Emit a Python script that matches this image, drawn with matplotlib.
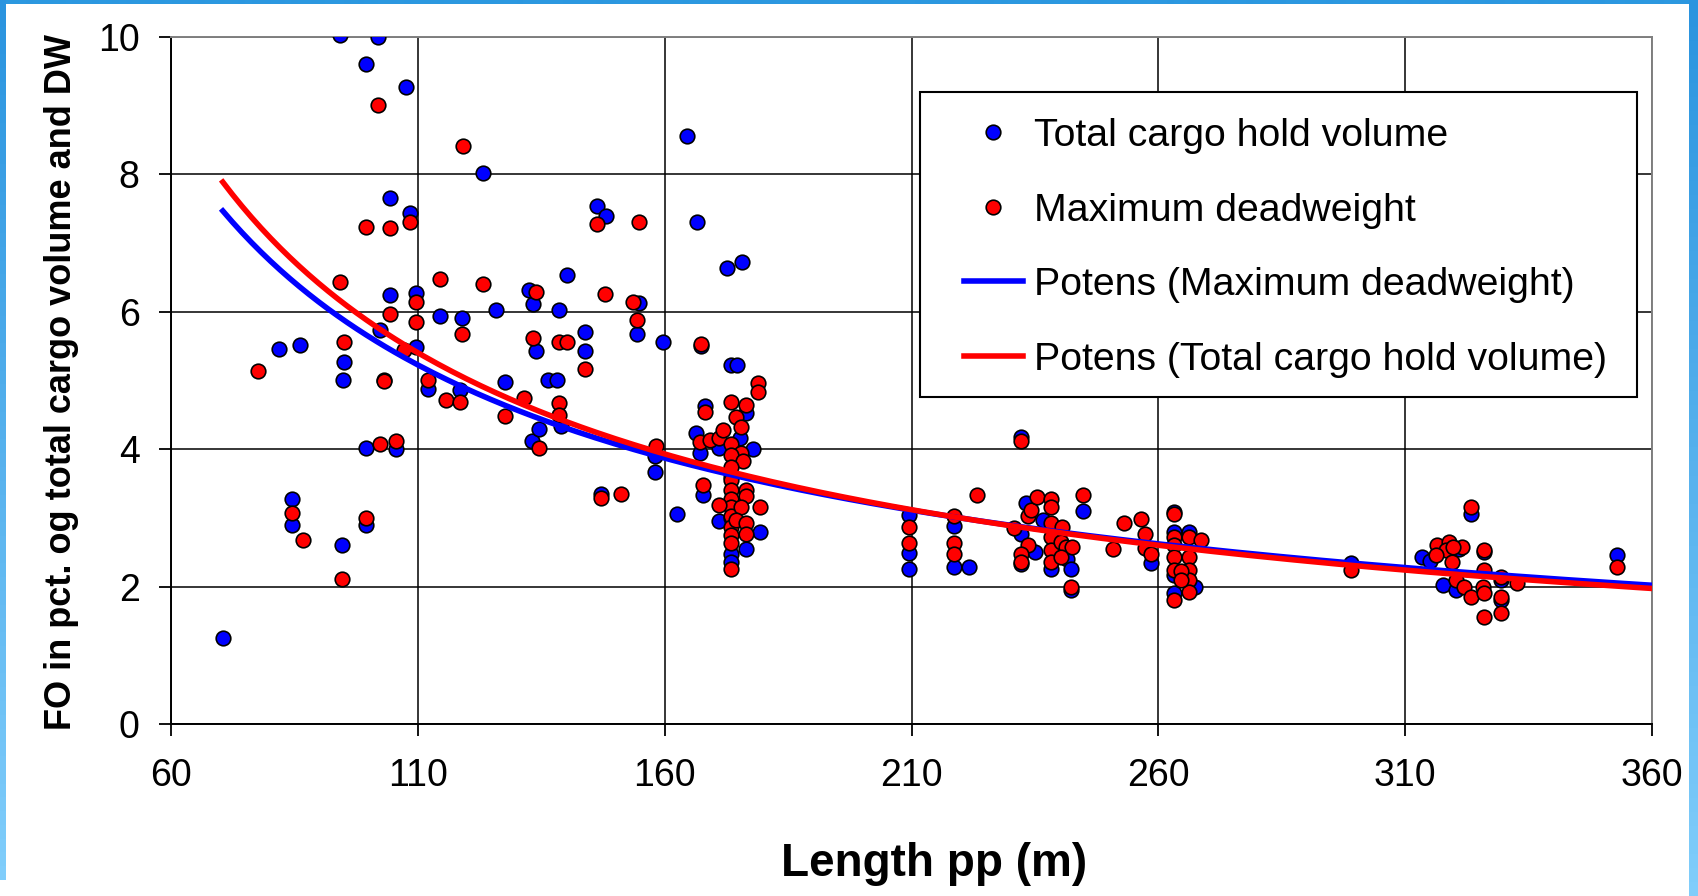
import numpy as np
import matplotlib
matplotlib.use("Agg")
import matplotlib.pyplot as plt
from matplotlib.patches import Rectangle

plt.rcParams['font.family'] = ['Liberation Sans', 'DejaVu Sans']

# FO in pct. of total cargo hold volume (blue)
vol_len = [94.3, 101.9, 99.5, 107.6, 104.3, 108.4, 104.3, 109.6, 114.4, 118.9,
           102.4, 109.6, 81.8, 86.2, 95.1, 94.9, 103.2, 112.0, 99.5, 105.6,
           84.6, 84.6, 94.7, 99.6, 70.5, 118.6,
           164.5, 123.3, 146.3, 148.1, 166.5, 172.6, 175.7, 140.3, 132.5, 133.4,
           125.8, 138.6, 154.8, 154.3, 159.7, 133.9, 143.9, 143.9, 173.4, 174.7,
           167.3, 127.6, 133.1, 134.6, 136.4, 138.1, 139.0, 147.1,
           158.0, 158.0, 162.4, 168.1, 166.4, 167.1, 171.1, 167.8, 176.5, 175.2,
           177.9, 173.5, 173.5, 171.1, 179.4, 176.5, 173.5, 173.5,
           209.5, 209.5, 209.5, 218.7, 218.7, 221.7, 232.2, 232.2, 233.2, 232.2,
           238.2, 236.6, 241.6, 242.3, 242.3, 244.8, 258.5, 263.2, 263.2, 263.2,
           263.2, 266.3, 267.5, 235.0, 240.0,
           299.0, 323.3, 313.5, 315.0, 317.7, 320.2, 329.4, 329.4, 352.9, 321.0, 326.0]
vol_fo = [10.02, 10.0, 9.6, 9.27, 7.65, 7.43, 6.24, 6.27, 5.94, 5.91,
          5.73, 5.49, 5.45, 5.51, 5.27, 5.01, 5.0, 4.87, 4.02, 4.00,
          3.28, 2.90, 2.61, 2.90, 1.25, 4.86,
          8.55, 8.02, 7.53, 7.39, 7.31, 6.64, 6.72, 6.53, 6.32, 6.11,
          6.02, 6.03, 6.12, 5.68, 5.56, 5.42, 5.71, 5.42, 5.22, 5.22,
          5.50, 4.97, 4.12, 4.29, 5.0, 5.0, 4.34, 3.35,
          3.90, 3.66, 3.05, 4.63, 4.23, 3.95, 4.01, 3.33, 4.52, 4.16,
          4.0, 2.48, 2.36, 2.96, 2.80, 2.54, 3.6, 3.0,
          3.04, 2.49, 2.26, 2.88, 2.29, 2.29, 4.18, 2.77, 3.21, 2.33,
          2.26, 2.97, 2.40, 2.26, 1.95, 3.10, 2.34, 3.09, 2.80, 2.17,
          1.90, 2.80, 2.0, 2.5, 2.8,
          2.34, 3.06, 2.43, 2.37, 2.02, 1.95, 2.09, 1.8, 2.46, 2.55, 2.5]

# FO in pct. of maximum deadweight (red)
dw_len = [101.9, 119.2, 108.4, 99.5, 104.3, 94.3, 114.4, 109.6, 104.3, 109.6,
          118.9, 95.1, 107.2, 77.7, 103.2, 112.0, 115.7, 118.6, 102.4, 105.6,
          84.6, 86.7, 94.7, 99.6,
          146.3, 154.8, 123.3, 133.9, 147.9, 153.6, 154.3, 167.3, 133.4, 138.6,
          140.3, 143.9, 127.6, 131.5, 134.6, 138.6, 138.6, 147.1, 151.1,
          158.2, 168.1, 167.1, 169.1, 171.1, 171.8, 167.8, 173.5, 176.5, 178.9,
          178.9, 174.5, 175.5, 173.5, 175.5, 173.5, 175.9, 173.5, 173.5, 173.5,
          173.5, 173.5, 173.5, 173.5, 173.5, 173.5, 173.5, 171.1, 176.5, 176.5,
          175.5, 174.5, 176.5, 179.4, 176.5,
          209.5, 209.5, 218.7, 218.7, 218.7, 223.3, 232.2, 230.7, 233.6, 234.2,
          235.4, 233.6, 232.2, 232.2, 238.2, 238.2, 238.2, 238.2, 238.2, 238.2,
          240.5, 240.3, 241.3, 242.6, 240.3, 242.3, 244.8, 250.8, 253.1, 256.5,
          257.2, 257.2, 258.5, 263.2, 263.2, 263.2, 263.2, 263.2, 263.2, 266.3,
          266.3, 266.3, 266.3, 266.3, 268.6, 264.6, 264.6,
          299.0, 323.3, 316.5, 318.9, 318.2, 321.6, 319.6, 316.2, 319.4, 325.9,
          325.9, 320.2, 322.0, 323.3, 325.7, 325.9, 325.9, 329.4, 329.4, 329.4,
          332.7, 352.9]
dw_fo = [9.0, 8.41, 7.31, 7.23, 7.21, 6.43, 6.47, 6.14, 5.97, 5.85,
         5.68, 5.56, 5.44, 5.13, 4.99, 5.01, 4.72, 4.69, 4.08, 4.12,
         3.07, 2.67, 2.11, 2.99,
         7.27, 7.31, 6.40, 6.29, 6.25, 6.14, 5.88, 5.53, 5.62, 5.56,
         5.56, 5.17, 4.48, 4.75, 4.01, 4.67, 4.5, 3.29, 3.35,
         4.04, 4.54, 4.11, 4.13, 4.16, 4.28, 3.48, 4.69, 4.64, 4.96,
         4.83, 4.47, 4.32, 4.08, 3.95, 3.91, 3.82, 3.74, 3.55, 3.40,
         3.28, 3.16, 3.02, 2.87, 2.75, 2.63, 2.25, 3.19, 3.40, 3.32,
         3.16, 2.97, 2.92, 3.16, 2.77,
         2.87, 2.64, 3.02, 2.64, 2.47, 3.33, 4.12, 2.85, 3.02, 3.11,
         3.31, 2.60, 2.48, 2.36, 3.28, 3.16, 2.92, 2.72, 2.53, 2.36,
         2.87, 2.65, 2.58, 2.58, 2.43, 2.0, 3.33, 2.54, 2.93, 2.98,
         2.76, 2.56, 2.48, 3.05, 2.72, 2.60, 2.43, 2.24, 1.80, 2.72,
         2.43, 2.24, 2.09, 1.92, 2.68, 2.22, 2.1,
         2.24, 3.16, 2.60, 2.65, 2.53, 2.58, 2.58, 2.46, 2.36, 2.53,
         2.24, 2.09, 2.0, 1.85, 2.0, 1.90, 1.56, 2.14, 1.85, 1.61,
         2.05, 2.29]

# power trendlines y = a * x**b ("Potens")
pot_dw = (226.6, -0.802)
pot_vol = (293.6, -0.850)
trend_range = (70.5, 360)

x_ticks = [60, 110, 160, 210, 260, 310, 360]
y_ticks = [0, 2, 4, 6, 8, 10]

W, H = 1698, 896
fig = plt.figure(figsize=(W / 100, H / 100), dpi=100)

# slide frame strips
def strip(x0, y0, w, h, c_top, c_bot):
    a = fig.add_axes([x0 / W, 1 - (y0 + h) / H, w / W, h / H])
    grad = np.linspace(0, 1, 64)[:, None]
    cmap = matplotlib.colors.LinearSegmentedColormap.from_list("s", [c_top, c_bot])
    a.imshow(grad, aspect='auto', cmap=cmap, extent=(0, 1, 0, 1))
    a.set_axis_off()

strip(0, 0, W, 4, '#2c98e0', '#2c98e0')
strip(0, 0, 6, 880, '#2a94df', '#80cdfb')
strip(1689, 0, 9, 896, '#2a94df', '#80cdfb')

ax = fig.add_axes([171 / W, 1 - 724 / H, 1481 / W, 687.3 / H])

ax.plot(vol_len, vol_fo, 'o', color='#0000ff', mec='black', mew=1.2, ms=10.5,
        label='Total cargo hold volume', zorder=3)
ax.plot(dw_len, dw_fo, 'o', color='#ff0000', mec='black', mew=1.2, ms=10.5,
        label='Maximum deadweight', zorder=3)

xs = np.linspace(trend_range[0], trend_range[1], 300)
ax.plot(xs, pot_dw[0] * xs ** pot_dw[1], color='#0000ff', lw=4,
        label='Potens (Maximum deadweight)', zorder=4)
ax.plot(xs, pot_vol[0] * xs ** pot_vol[1], color='#ff0000', lw=4,
        label='Potens (Total cargo hold volume)', zorder=4)

ax.set_xlim(60, 360)
ax.set_ylim(0, 10)
ax.set_xticks(x_ticks)
ax.set_yticks(y_ticks)
ax.grid(True, color='black', lw=1.1)
ax.set_axisbelow(True)
ax.tick_params(labelsize=27, direction='out', length=8.6, width=1.3, color='black')
ax.tick_params(axis='y', pad=14)
ax.tick_params(axis='x', pad=16)
for s in ['left', 'bottom']:
    ax.spines[s].set_color('black')
    ax.spines[s].set_linewidth(1.4)
for s in ['top', 'right']:
    ax.spines[s].set_color('#808080')
    ax.spines[s].set_linewidth(1.4)

# legend box
ax.add_patch(Rectangle(((920 - 171) / 1481, (724 - 397) / 687.3),
                       (1637 - 920) / 1481, (397 - 92) / 687.3,
                       transform=ax.transAxes, facecolor='white', edgecolor='black',
                       lw=1.5, zorder=5))
leg = ax.legend(loc='upper left', bbox_to_anchor=((964 - 171) / 1481, (724 - 118) / 687.3),
                frameon=False, fontsize=28.3, numpoints=1, handlelength=1.5,
                handletextpad=0.28, labelspacing=0.98, borderpad=0, borderaxespad=0)
leg.set_zorder(6)

fig.text(934 / W, 1 - 876 / H, 'Length pp (m)', fontsize=33, fontweight='bold',
         ha='center', va='baseline')
fig.text(71 / W, 1 - 381.5 / H, 'FO in pct. og total cargo volume and DW', fontsize=26,
         fontweight='bold', rotation=90, rotation_mode='anchor', ha='center', va='baseline')

fig.savefig('out.png', dpi=100)
